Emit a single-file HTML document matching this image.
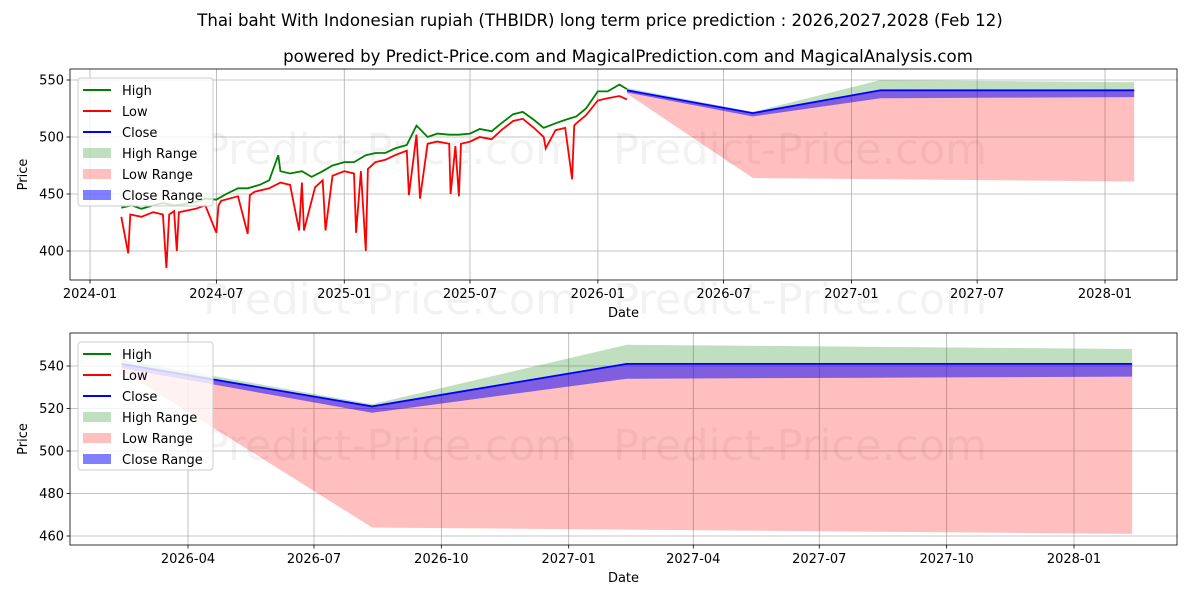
<!DOCTYPE html>
<html><head><meta charset="utf-8"><style>
html,body{margin:0;padding:0;background:#fff;}
svg{display:block;font-family:"DejaVu Sans","Liberation Sans",sans-serif;}
</style></head><body>
<svg id="chart" width="1200" height="600" viewBox="0 0 1200 600" xmlns="http://www.w3.org/2000/svg">
<rect width="1200" height="600" fill="#fff"/>
<text x="600" y="26" text-anchor="middle" font-size="16.6">Thai baht With Indonesian rupiah (THBIDR) long term price prediction : 2026,2027,2028 (Feb 12)</text>
<text x="628" y="62" text-anchor="middle" font-size="16.6">powered by Predict-Price.com and MagicalPrediction.com and MagicalAnalysis.com</text>
<g id="top"></g>
<g id="bot"></g>
</svg>
<script>
const histDates=['2024-02-15','2024-03-01','2024-03-15','2024-04-01','2024-04-15','2024-05-01','2024-05-15','2024-06-01','2024-06-15','2024-07-01','2024-07-15','2024-08-01','2024-08-15','2024-09-01','2024-09-15','2024-09-28','2024-10-01','2024-10-15','2024-11-01','2024-11-15','2024-12-01','2024-12-15','2025-01-01','2025-01-15','2025-02-01','2025-02-15','2025-03-01','2025-03-15','2025-04-01','2025-04-15','2025-05-01','2025-05-15','2025-06-01','2025-06-15','2025-07-01','2025-07-15','2025-08-01','2025-08-15','2025-09-01','2025-09-15','2025-10-01','2025-10-15','2025-11-01','2025-11-15','2025-12-01','2025-12-15','2026-01-01','2026-01-15','2026-02-01','2026-02-12'];
const histHigh=[438,440,437,440,442,440,441,443,446,445,450,455,455,458,462,484,470,468,470,465,470,475,478,478,484,486,486,490,493,510,500,503,502,502,503,507,505,512,520,522,515,508,512,515,518,525,540,540,546,542];
const histClose=[434,437,434,437,439,437,438,440,443,442,447,452,452,455,459,472,466,465,466,462,466,471,474,474,480,482,483,487,490,503,497,500,499,499,500,504,502,509,516,518,511,504,509,512,515,522,536,536,540,539];
const lowDates=['2024-02-15','2024-02-25','2024-02-28','2024-03-15','2024-04-01','2024-04-15','2024-04-20','2024-04-24','2024-05-01','2024-05-05','2024-05-08','2024-06-01','2024-06-15','2024-07-01','2024-07-04','2024-07-08','2024-08-01','2024-08-15','2024-08-18','2024-08-25','2024-09-15','2024-10-01','2024-10-15','2024-10-28','2024-11-01','2024-11-04','2024-11-20','2024-12-01','2024-12-05','2024-12-15','2025-01-01','2025-01-15','2025-01-18','2025-01-25','2025-02-01','2025-02-04','2025-02-15','2025-03-01','2025-03-15','2025-04-01','2025-04-04','2025-04-15','2025-04-20','2025-05-01','2025-05-15','2025-06-01','2025-06-03','2025-06-10','2025-06-15','2025-06-18','2025-07-01','2025-07-15','2025-08-01','2025-08-15','2025-09-01','2025-09-15','2025-10-01','2025-10-15','2025-10-18','2025-11-01','2025-11-15','2025-11-25','2025-11-28','2025-12-01','2025-12-15','2026-01-01','2026-01-15','2026-02-01','2026-02-12'];
const lowValues=[430,398,432,430,434,432,385,432,435,400,434,437,440,416,440,444,448,415,449,452,455,460,458,418,460,418,456,462,418,466,470,468,416,470,400,472,478,480,484,488,449,502,446,494,496,494,450,492,448,494,496,500,498,506,514,516,508,500,490,506,508,463,510,512,519,532,534,536,533];
const fDates=['2026-02-12','2026-08-12','2027-02-12','2027-08-12','2028-02-12'];
const fHigh=[543,522,550,549,548];
const fLow=[538,464,463,462,461];
const fClose=[541,521,541,541,541];
const fCloseLow=[539,518,534,534.5,535];
const topYTicks=[400,450,500,550];
const topXTicks=['2024-01','2024-07','2025-01','2025-07','2026-01','2026-07','2027-01','2027-07','2028-01'];
const botYTicks=[460,480,500,520,540];
const botXTicks=['2026-04','2026-07','2026-10','2027-01','2027-04','2027-07','2027-10','2028-01'];

const NS='http://www.w3.org/2000/svg';
const D=s=>new Date(s.length===7?s+'-01':s).getTime();
function el(p,t,a){const e=document.createElementNS(NS,t);for(const k in a)e.setAttribute(k,a[k]);p.appendChild(e);return e;}
function linePts(xs,ys,X,Y){return xs.map((d,i)=>X(d).toFixed(1)+','+Y(ys[i]).toFixed(1)).join(' ');}
function band(xs,lo,hi,X,Y){const a=xs.map((d,i)=>X(d)+','+Y(hi[i]));const b=xs.map((d,i)=>X(d)+','+Y(lo[i])).reverse();return a.concat(b).join(' ');}

function panel(g,cfg){
  const {L,R,T,B,X,Y,yt,xt,fmt,hist,wm}=cfg;
  yt.forEach(v=>{const y=Y(v);
    const gl=el(g,'line',{x1:L,x2:R,y1:y,y2:y,stroke:'#b0b0b0','stroke-width':0.8});
    
    el(g,'line',{x1:L-3.5,x2:L,y1:y,y2:y,stroke:'#000','stroke-width':0.8});
    const t=el(g,'text',{x:L-6,y:y+4.5,'text-anchor':'end','font-size':13});t.textContent=v;
    
  });
  xt.forEach(s=>{const x=X(s);
    const gl=el(g,'line',{x1:x,x2:x,y1:T,y2:B,stroke:'#b0b0b0','stroke-width':0.8});
    
    el(g,'line',{x1:x,x2:x,y1:B,y2:B+3.5,stroke:'#000','stroke-width':0.8});
    const t=el(g,'text',{x:x,y:B+18,'text-anchor':'middle','font-size':13});t.textContent=fmt(s);
    
  });
  wm.forEach(y=>[390,800].forEach(x=>{const t=el(g,'text',{x:x,y:y,'text-anchor':'middle','font-size':43,fill:'#000','fill-opacity':0.05});t.textContent='Predict-Price.com';
    }));
  const cp=el(g,'clipPath',{id:'c'+T});el(cp,'rect',{x:L,y:T,width:R-L,height:B-T});
  const d=el(g,'g',{'clip-path':'url(#c'+T+')'});
  let p=el(d,'polygon',{points:band(fDates,fClose,fHigh,X,Y),fill:'#008000','fill-opacity':0.25});
  
  p=el(d,'polygon',{points:band(fDates,fLow,fClose,X,Y),fill:'#ff0000','fill-opacity':0.25});
  
  p=el(d,'polygon',{points:band(fDates,fCloseLow,fClose,X,Y),fill:'#0000ff','fill-opacity':0.5});
  
  if(hist){
    p=el(d,'polyline',{points:linePts(lowDates,lowValues,X,Y),fill:'none',stroke:'#ff0000','stroke-width':1.8});
    
    p=el(d,'polyline',{points:linePts(histDates,histHigh,X,Y),fill:'none',stroke:'#008000','stroke-width':1.8});
    
  }
  p=el(d,'polyline',{points:linePts(fDates,fClose,X,Y),fill:'none',stroke:'#0000ff','stroke-width':1.8});
  
  el(g,'rect',{x:L,y:T,width:R-L,height:B-T,fill:'none',stroke:'#000','stroke-width':0.8});
  let t=el(g,'text',{x:(L+R)/2,y:B+37,'text-anchor':'middle','font-size':13});t.textContent='Date';
  
  t=el(g,'text',{x:0,y:0,'text-anchor':'middle','font-size':13,transform:`translate(27,${(T+B)/2}) rotate(-90)`});t.textContent='Price';
  
  const lg=el(g,'g',{});
  const ly=T+9;
  el(lg,'rect',{x:L+8,y:ly,width:135,height:128,rx:3,fill:'#fff','fill-opacity':0.8,stroke:'#ccc'});
  const items=[['High','#008000','line'],['Low','#ff0000','line'],['Close','#0000ff','line'],['High Range','rgba(0,128,0,0.25)','box'],['Low Range','rgba(255,0,0,0.25)','box'],['Close Range','rgba(0,0,255,0.5)','box']];
  items.forEach((it,i)=>{const y=ly+12+i*21;
    if(it[2]==='line')el(lg,'line',{x1:L+13,x2:L+41,y1:y,y2:y,stroke:it[1],'stroke-width':2});
    else el(lg,'rect',{x:L+13,y:y-5,width:28,height:10,fill:it[1]});
    const tt=el(lg,'text',{x:L+52,y:y+5,'font-size':13});tt.textContent=it[0];
    
  });
}
const x0=D('2024-01-01'),x1=D('2028-01-01');
panel(document.getElementById('top'),{L:70,R:1177,T:69,B:280,
  X:s=>90+(D(s)-x0)/(x1-x0)*(1105-90),Y:v=>80+(550-v)*1.14,
  yt:topYTicks,xt:topXTicks,fmt:s=>s,hist:true,wm:[164,314]});
const b0=D('2026-04-01'),b1=D('2028-01-01');
panel(document.getElementById('bot'),{L:70,R:1177,T:333,B:545,
  X:s=>188+(D(s)-b0)/(b1-b0)*(1074-188),Y:v=>366+(540-v)*2.125,
  yt:botYTicks,xt:botXTicks,fmt:s=>s,hist:false,wm:[460]});
</script>
</body></html>
